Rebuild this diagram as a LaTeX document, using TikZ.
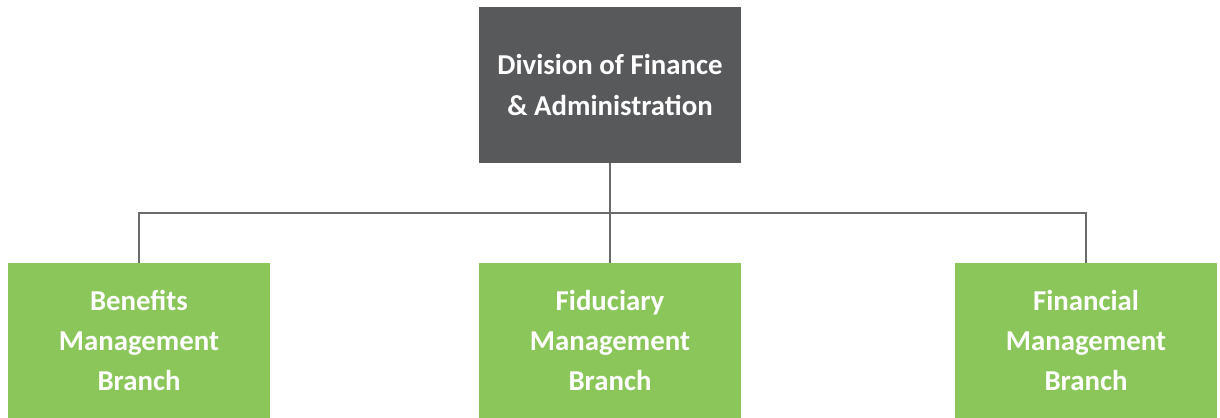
\documentclass[tikz,border=0pt]{standalone}
\usepackage{fontspec}
\setmainfont{Carlito}
\definecolor{divgray}{HTML}{58595B}
\definecolor{branchgreen}{HTML}{8BC65A}
\definecolor{linegray}{HTML}{6B6B6B}
\begin{document}
\begin{tikzpicture}
        [x=0.02cm, y=0.02cm,
         box/.style={rectangle, minimum width=5.24cm, minimum height=3.1cm, inner sep=0pt,
                     text=white, align=center, font=\bfseries\fontsize{16.4}{22.9}\selectfont},
         link/.style={draw=linegray, line width=0.7pt}]

        \useasboundingbox (0, 0) rectangle (1220, 418);

        \node[box, fill=divgray, minimum height=3.12cm] (division) at (610, 333) {Division of Finance\\\& Administration};

        \foreach \name/\x/\label in {benefits/139/{Benefits\\Management\\Branch},
                                     fiduciary/610/{Fiduciary\\Management\\Branch},
                                     financial/1086/{Financial\\Management\\Branch}}
        \node[box, fill=branchgreen] (\name) at (\x, 77.5) {\label};

        \coordinate (bus) at (610, 205);

        \draw[link] (division.south) -- (fiduciary.north);
        \draw[link] (benefits.north) -- (benefits.north |- bus) -- (financial.north |- bus) -- (financial.north);

    \end{tikzpicture}
\end{document}
